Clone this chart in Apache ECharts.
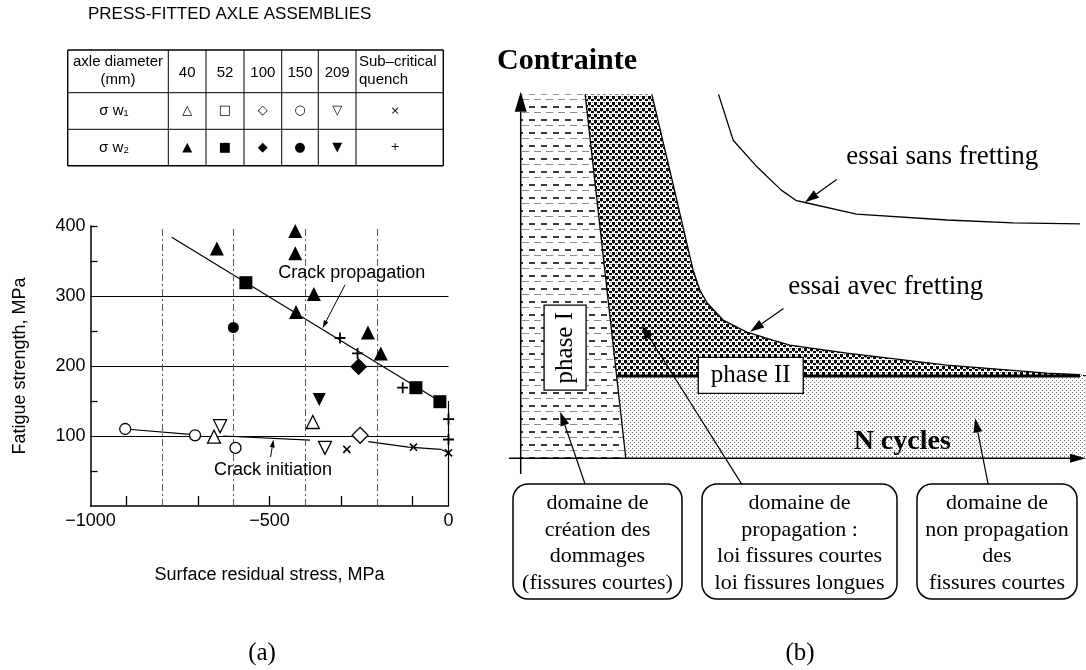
<!DOCTYPE html>
<html><head><meta charset="utf-8">
<script src="https://cdn.jsdelivr.net/npm/echarts@6/dist/echarts.min.js"></script>
<style>html,body{margin:0;padding:0;background:#fff}#c{width:1086px;height:670px}</style>
</head><body><div id="c"></div>
<script>
// ================= (a) data =================
const xTickLabels = [-1000, -500, 0];
const xMinorTicks = [-900, -700, -500, -300, -100];
const yTickLabels = [100, 200, 300, 400];
const yMinorTicks = [50, 150, 250, 350, 400];
const gridY = [100, 200, 300];
const gridX = [-800, -600, -400, -200];
// sigma_w2 (filled)
const sw2_40 = [[-647, 368], [-428, 393], [-428, 361], [-376, 303], [-426, 277], [-225, 248], [-189, 218]];
const sw2_52 = [[-566, 319], [-91, 169], [-24, 149]];
const sw2_100 = [[-251, 199]];
const sw2_150 = [[-601, 255]];
const sw2_209 = [[-361, 152]];
const sw2_sub = [[-303, 240], [-254, 218], [-128, 169], [0, 124], [0, 95]];
// sigma_w1 (open)
const sw1_40 = [[-655, 99], [-379, 120]];
const sw1_100 = [[-247, 101]];
const sw1_150 = [[-903, 110], [-708, 101], [-595, 83]];
const sw1_209 = [[-638, 114], [-345, 83]];
const sw1_sub = [[-284, 81], [-98, 84], [0, 76]];
// fitted lines
const propLine = [[-773, 384], [-22, 149]];
const initSeg1 = [[-903, 110], [-713, 102]];
const initSeg2 = [[-629, 100], [-387, 94]];
const initSeg3 = [[-224, 92], [-112, 84], [-22, 81], [0, 76]];
const rightEdge = [[0, 0], [0, 150]];
const labelsA = [{t: 'Crack propagation', at: [-270, 333]}, {t: 'Crack initiation', at: [-490, 51]}];
const arrowsA = [[-289, 316, -352, 254], [-497, 70, -489, 95]];
// table
const diameters = ['40', '52', '100', '150', '209'];
const rowLabels = ['σ w₁', 'σ w₂'];
const row1Symbols = ['△', '□', '◇', '○', '▽', '×'];
const row2Symbols = ['▲', '■', '◆', '●', '▼', '+'];

// ================= (b) data =================
const axisArrowY = [[0, -4.3, 0, 100.7]];
const axisArrowX = [[-2.07, 0, 100, 0]];
const phaseIRegion = [[0, 0], [0, 100], [11.4, 100], [18.6, 0]];
const phaseIBoundary = [[11.4, 100], [18.6, 0]];
const frettingCurve = [[23.2, 100], [26.8, 76.4], [30.5, 51.7], [31.7, 46.2], [33, 42.7], [35.8, 38], [40, 34.7], [44.6, 32.5], [47.6, 31.1], [57.7, 28.9], [75.4, 25.6], [93.1, 23.4], [100, 22.9]];
const phaseIILevel = [[17.0, 22.6], [100, 22.6]];
const propRegion = [[11.4, 100], [17.0, 22.6], [100, 22.6]].concat(frettingCurve.slice().reverse());
const nonPropRegion = [[17.0, 22.6], [18.6, 0], [100, 0], [100, 22.6]];
const noFrettingCurve = [[35, 100], [37.6, 87.4], [41.8, 80.1], [46.1, 73.7], [48.8, 70.8], [50.3, 70.3], [59.4, 67.1], [75.4, 65.5], [87.1, 64.7], [100, 64.4]];
const arrowsB = [[55.9, 76.6, 50.3, 70.4], [46.5, 41.2, 40.6, 34.8], [11.4, -7.1, 7.0, 12.8], [39.1, -7.1, 21.4, 36.6], [82.7, -7.1, 80.4, 11.0]];
const labelsB = [{t: 'essai sans fretting', at: [74.6, 82.8]}, {t: 'essai avec fretting', at: [64.6, 47.1]}, {t: 'N cycles', at: [67.5, 4.6], bold: true}];
const phaseBoxes = [{t: 'phase I', at: [7.85, 30.4], w: 42, h: 85, rot: true}, {t: 'phase II', at: [40.7, 22.8], w: 105, h: 36}];
const domainBoxes = [
  {x: 513, w: 169, lines: ['domaine de', 'création des', 'dommages', '(fissures courtes)']},
  {x: 702, w: 195, lines: ['domaine de', 'propagation :', 'loi fissures courtes', 'loi fissures longues']},
  {x: 917, w: 160, lines: ['domaine de', 'non propagation', 'des', 'fissures courtes']}
];

// ================= helpers =================
const SANS = "'Liberation Sans', Arial, Helvetica, sans-serif";
const NARROW = "'Liberation Sans Narrow', 'Liberation Sans', Arial, sans-serif";
const SERIF = "'Liberation Serif', 'Times New Roman', serif";
const SYM = "'DejaVu Sans', sans-serif";

function makeCanvas(w, h, draw) {
  const c = document.createElement('canvas'); c.width = w; c.height = h;
  const g = c.getContext('2d'); g.fillStyle = '#fff'; g.fillRect(0, 0, w, h); draw(g); return c;
}
const dashPat = makeCanvas(12, 13, g => {
  g.fillStyle = '#3a3a3a'; g.fillRect(1, 2, 6, 2);
  g.fillStyle = '#8c8c8c'; g.fillRect(6, 8, 6, 1);
  g.fillRect(0, 8, 1, 1);
});
const densePat = makeCanvas(6, 6, g => {
  g.fillStyle = '#000'; g.fillRect(0, 0, 3, 3); g.fillRect(3, 3, 3, 2);
  g.fillStyle = '#666'; g.fillRect(4, 0, 1, 1); g.fillRect(1, 3, 1, 1);
});
const lightPat = makeCanvas(4, 4, g => {
  g.fillStyle = '#6e6e6e'; g.fillRect(0, 0, 1, 1); g.fillRect(2, 2, 1, 1);
});

function polySeries(pts, pattern) {
  return {
    type: 'custom', xAxisIndex: 1, yAxisIndex: 1, silent: true, clip: false, z: 1,
    data: pts,
    renderItem: (params, api) => {
      if (params.dataIndex !== 0) return;
      return {type: 'polygon', shape: {points: pts.map(p => api.coord(p))},
              style: {fill: {image: pattern, repeat: 'repeat'}, stroke: null}};
    }
  };
}
function arrowSeries(list, axisIdx, head, lw, z) {
  return {
    type: 'custom', xAxisIndex: axisIdx, yAxisIndex: axisIdx, silent: true, clip: false, z: z || 6,
    data: list.map(a => [a[0], a[1]]),
    renderItem: (params, api) => {
      const a = list[params.dataIndex];
      const p1 = api.coord([a[0], a[1]]), p2 = api.coord([a[2], a[3]]);
      const ang = Math.atan2(p2[1] - p1[1], p2[0] - p1[0]);
      const L = head[0], W = head[1];
      const bx = p2[0] - L * Math.cos(ang), by = p2[1] - L * Math.sin(ang);
      const nx = -Math.sin(ang) * W / 2, ny = Math.cos(ang) * W / 2;
      return {type: 'group', children: [
        {type: 'line', shape: {x1: p1[0], y1: p1[1], x2: bx, y2: by}, style: {stroke: '#000', lineWidth: lw}},
        {type: 'polygon', shape: {points: [[p2[0], p2[1]], [bx + nx, by + ny], [bx - nx, by - ny]]}, style: {fill: '#000'}}
      ]};
    }
  };
}
function textStyle(text, font, extra) {
  return Object.assign({text: text, font: font, fill: '#000', align: 'center', verticalAlign: 'middle',
    textAlign: 'center', textVerticalAlign: 'middle'}, extra || {});
}
function labelSeries(list, axisIdx, fontFn) {
  return {
    type: 'custom', xAxisIndex: axisIdx, yAxisIndex: axisIdx, silent: true, clip: false, z: 7,
    data: list.map(l => l.at),
    renderItem: (params, api) => {
      const l = list[params.dataIndex]; const p = api.coord(l.at);
      return {type: 'text', x: p[0], y: p[1], style: textStyle(l.t, fontFn(l))};
    }
  };
}
function lineB(data, w) {
  return {type: 'line', xAxisIndex: 1, yAxisIndex: 1, data: data, showSymbol: false, symbol: 'none', clip: false,
          silent: true, z: 4, lineStyle: {color: '#000', width: w}};
}
function lineA(data) {
  return {type: 'line', xAxisIndex: 0, yAxisIndex: 0, data: data, showSymbol: false, symbol: 'none',
          silent: true, z: 3, lineStyle: {color: '#000', width: 1.2}};
}
const PLUS = 'path://M4.2,0H5.8V4.2H10V5.8H5.8V10H4.2V5.8H0V4.2H4.2Z';
function scat(data, symbol, size, filled, rotate) {
  return {type: 'scatter', xAxisIndex: 0, yAxisIndex: 0, data: data, symbol: symbol, symbolSize: size,
          symbolRotate: rotate || 0, silent: true, z: 5,
          itemStyle: filled ? {color: '#000', borderWidth: 0, opacity: 1}
                            : {color: '#fff', borderColor: '#000', borderWidth: 1.3, opacity: 1}};
}

// ================= graphics (table, titles, boxes) =================
const graphics = [];
const tX = [67.7, 168.3, 206, 244, 281.7, 318.3, 356, 443.3];
const tY = [50, 92.7, 129.3, 165.7];
tX.forEach((x, i) => graphics.push({type: 'line', shape: {x1: x, y1: tY[0], x2: x, y2: tY[3]},
  style: {stroke: '#000', lineWidth: (i === 0 || i === tX.length - 1) ? 1.4 : 1}}));
tY.forEach((y, i) => graphics.push({type: 'line', shape: {x1: tX[0], y1: y, x2: tX[7], y2: y},
  style: {stroke: '#000', lineWidth: (i === 0 || i === tY.length - 1) ? 1.4 : 1}}));
graphics.push({type: 'text', x: 118, y: 71, style: textStyle('axle diameter\n(mm)', '15px ' + NARROW, {lineHeight: 18})});
diameters.forEach((d, i) => graphics.push({type: 'text', x: (tX[i + 1] + tX[i + 2]) / 2, y: 73,
  style: textStyle(d, '15px ' + NARROW)}));
graphics.push({type: 'text', x: 359, y: 71, style: textStyle('Sub–critical\nquench', '15px ' + NARROW,
  {align: 'left', textAlign: 'left', lineHeight: 18})});
rowLabels.forEach((r, j) => graphics.push({type: 'text', x: 114, y: (tY[j + 1] + tY[j + 2]) / 2,
  style: textStyle(r, '15px ' + SANS)}));
[row1Symbols, row2Symbols].forEach((row, j) => row.forEach((s, i) => graphics.push({type: 'text',
  x: i < 5 ? (tX[i + 1] + tX[i + 2]) / 2 : 395, y: (tY[j + 1] + tY[j + 2]) / 2,
  style: textStyle(s, (i < 5 ? '13px ' : '11px ') + SYM)})));
graphics.push({type: 'text', x: 88, y: 14, style: textStyle('PRESS-FITTED AXLE ASSEMBLIES', '17px ' + SANS,
  {align: 'left', textAlign: 'left'})});
graphics.push({type: 'text', x: 497, y: 61, style: textStyle('Contrainte', 'bold 30px ' + SERIF, {align: 'left', textAlign: 'left'})});
graphics.push({type: 'text', x: 262, y: 653, style: textStyle('(a)', '25px ' + SERIF)});
graphics.push({type: 'text', x: 800, y: 653, style: textStyle('(b)', '25px ' + SERIF)});
domainBoxes.forEach(b => {
  graphics.push({type: 'rect', shape: {x: b.x, y: 484, width: b.w, height: 115, r: 15},
    style: {fill: '#fff', stroke: '#000', lineWidth: 1.5}});
  graphics.push({type: 'text', x: b.x + b.w / 2, y: 543, style: textStyle(b.lines.join('\n'), '22px ' + SERIF, {lineHeight: 26.5})});
});

// ================= option =================
const axisTxt = {color: '#000', fontSize: 18, fontFamily: SANS};
const option = {
  animation: false,
  backgroundColor: '#fff',
  grid: [
    {left: 90.5, top: 226, width: 358, height: 280, containLabel: false, outerBoundsMode: 'none'},
    {left: 509, top: 101.7, width: 569, height: 372.3, containLabel: false, outerBoundsMode: 'none'}
  ],
  xAxis: [
    {type: 'value', gridIndex: 0, min: -1000, max: 0, interval: 100,
     name: 'Surface residual stress, MPa', nameLocation: 'middle', nameGap: 60, nameTextStyle: axisTxt,
     axisLine: {show: true, onZero: false, lineStyle: {color: '#000', width: 1.5}},
     axisTick: {show: true, inside: true, length: 10, customValues: xMinorTicks, lineStyle: {color: '#000', width: 1.3}},
     axisLabel: {show: true, customValues: xTickLabels, margin: 6, color: '#000', fontSize: 18, fontFamily: SANS,
                 formatter: v => String(v).replace('-', '−')},
     splitLine: {show: false}},
    {type: 'value', gridIndex: 1, min: -2.07, max: 98.6,
     axisLine: {show: false}, axisTick: {show: false}, axisLabel: {show: false}, splitLine: {show: false}}
  ],
  yAxis: [
    {type: 'value', gridIndex: 0, min: 0, max: 400, interval: 100,
     name: 'Fatigue strength, MPa', nameLocation: 'middle', nameGap: 61, nameTextStyle: axisTxt,
     axisLine: {show: true, onZero: false, lineStyle: {color: '#000', width: 1.5}},
     axisTick: {show: true, inside: true, length: 7, customValues: yMinorTicks, lineStyle: {color: '#000', width: 1.3}},
     axisLabel: {show: true, customValues: yTickLabels, margin: 5, color: '#000', fontSize: 18, fontFamily: SANS},
     splitLine: {show: false}},
    {type: 'value', gridIndex: 1, min: -4.3, max: 98.0,
     axisLine: {show: false}, axisTick: {show: false}, axisLabel: {show: false}, splitLine: {show: false}}
  ],
  graphic: {elements: graphics},
  series: [
    // ---- (a) ----
    Object.assign(lineA(propLine), {markLine: {silent: true, symbol: ['none', 'none'], label: {show: false},
      data: gridY.map(v => ({yAxis: v, lineStyle: {color: '#000', width: 1, type: 'solid'}}))
        .concat(gridX.map(v => ({xAxis: v, lineStyle: {color: '#555', width: 1, type: [7, 3, 2, 3]}})))
        .concat([[{coord: rightEdge[0], lineStyle: {color: '#000', width: 1.2, type: 'solid'}}, {coord: rightEdge[1]}]])}}),
    lineA(initSeg1), lineA(initSeg2), lineA(initSeg3),
    scat(sw2_40, 'triangle', 14, true),
    scat(sw2_52, 'rect', 13, true),
    scat(sw2_100, 'diamond', 17, true),
    scat(sw2_150, 'circle', 11, true),
    scat(sw2_209, 'triangle', 13, true, 180),
    scat(sw2_sub, PLUS, 11, true),
    scat(sw1_40, 'triangle', 13, false),
    scat(sw1_100, 'diamond', 16, false),
    scat(sw1_150, 'circle', 11, false),
    scat(sw1_209, 'triangle', 13, false, 180),
    scat(sw1_sub, PLUS, 10, true, 45),
    labelSeries(labelsA, 0, () => '18px ' + SANS),
    arrowSeries(arrowsA, 0, [8, 5], 1),
    // ---- (b) ----
    polySeries(phaseIRegion, dashPat),
    polySeries(propRegion, densePat),
    polySeries(nonPropRegion, lightPat),
    lineB(phaseIBoundary, 1.3),
    lineB(frettingCurve, 1.3),
    lineB(phaseIILevel, 3),
    lineB(noFrettingCurve, 1.3),
    arrowSeries(axisArrowY, 1, [20, 12], 1.5, 9),
    arrowSeries(axisArrowX, 1, [16, 9], 1.5, 9),
    arrowSeries(arrowsB, 1, [14, 9], 1.2),
    labelSeries(labelsB, 1, l => (l.bold ? 'bold 28px ' : '27px ') + SERIF),
    {type: 'custom', xAxisIndex: 1, yAxisIndex: 1, silent: true, clip: false, z: 8,
     data: phaseBoxes.map(b => b.at),
     renderItem: (params, api) => {
       const b = phaseBoxes[params.dataIndex]; const p = api.coord(b.at);
       return {type: 'group', children: [
         {type: 'rect', shape: {x: p[0] - b.w / 2, y: p[1] - b.h / 2, width: b.w, height: b.h},
          style: {fill: '#fff', stroke: '#000', lineWidth: 1.3}},
         {type: 'text', x: p[0], y: p[1], rotation: b.rot ? Math.PI / 2 : 0, style: textStyle(b.t, '25px ' + SERIF)}
       ]};
     }}
  ]
};
const chart = echarts.init(document.getElementById('c'), null, {renderer: 'canvas'});
chart.setOption(option);
</script></body></html>
